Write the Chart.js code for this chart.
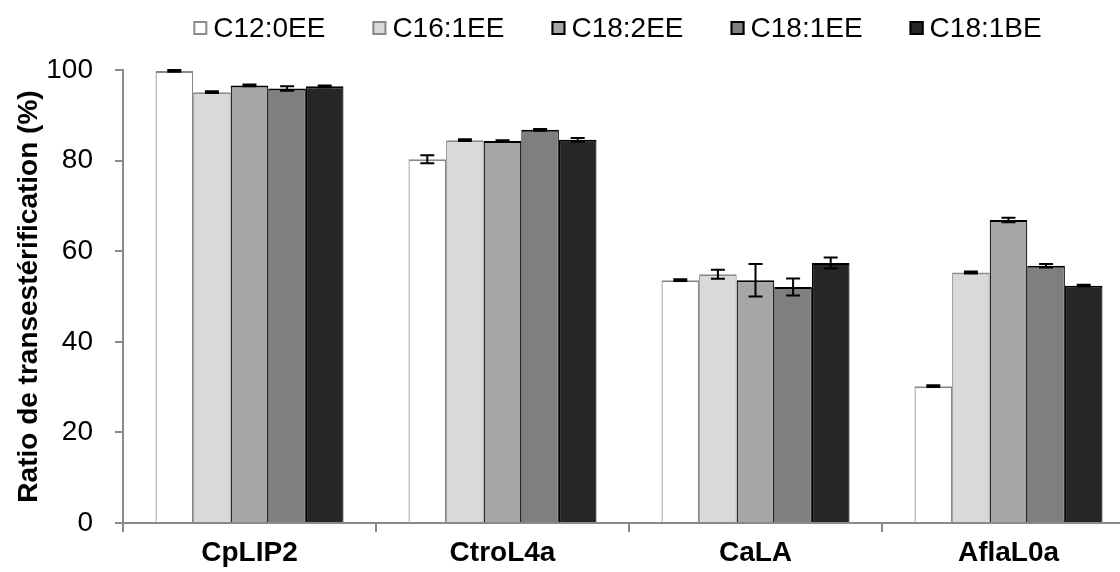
<!DOCTYPE html>
<html>
<head>
<meta charset="utf-8">
<script src="https://cdn.jsdelivr.net/npm/chart.js@4/dist/chart.umd.min.js"></script>
<style>
  html, body { margin: 0; padding: 0; background: #fff; overflow: hidden; }
  #wrap { width: 1140px; height: 572px; }
</style>
</head>
<body>
<div id="wrap"><canvas id="c" width="1140" height="572"></canvas></div>
<script>
// ---- data ----
const categories = ['CpLIP2', 'CtroL4a', 'CaLA', 'AflaL0a'];
const seriesNames = ['C12:0EE', 'C16:1EE', 'C18:2EE', 'C18:1EE', 'C18:1BE'];
const c12_0EE = [99.8, 80.3, 53.6, 30.2];
const c16_1EE = [95.1, 84.5, 54.9, 55.3];
const c18_2EE = [96.6, 84.3, 53.6, 66.9];
const c18_1EE = [95.9, 86.8, 52.1, 56.8];
const c18_1BE = [96.4, 84.6, 57.4, 52.4];
const err_c12_0EE = [0.2, 0.9, 0.2, 0.2];
const err_c16_1EE = [0.2, 0.2, 1.0, 0.2];
const err_c18_2EE = [0.2, 0.2, 3.6, 0.5];
const err_c18_1EE = [0.5, 0.2, 1.9, 0.4];
const err_c18_1BE = [0.2, 0.4, 1.2, 0.2];
const yTicks = [0, 20, 40, 60, 80, 100];

const FONT = "'Liberation Sans', Arial, sans-serif";
const fills = ['#FFFFFF', '#D9D9D9', '#A6A6A6', '#7F7F7F', '#262626'];
const borders = ['#8A8A8A', '#8A8A8A', '#000000', '#000000', '#000000'];
const values = [c12_0EE, c16_1EE, c18_2EE, c18_1EE, c18_1BE];
const errors = [err_c12_0EE, err_c16_1EE, err_c18_2EE, err_c18_1EE, err_c18_1BE];

const datasets = seriesNames.map((name, i) => ({
  label: name,
  data: values[i],
  errors: errors[i],
  backgroundColor: fills[i],
  borderColor: borders[i],
  borderWidth: {top: 2, left: 1.2, right: 1.2, bottom: 0},
  borderSkipped: 'bottom',
  categoryPercentage: 0.743,
  barPercentage: 1.0
}));

const errorBars = {
  id: 'errorBars',
  afterDatasetsDraw(chart) {
    const ctx = chart.ctx;
    const ys = chart.scales.y;
    ctx.save();
    ctx.strokeStyle = '#000';
    ctx.lineWidth = 2;
    chart.data.datasets.forEach((ds, di) => {
      const meta = chart.getDatasetMeta(di);
      meta.data.forEach((bar, j) => {
        const v = ds.data[j], e = ds.errors[j];
        const yTop = ys.getPixelForValue(v + e);
        const yBot = ys.getPixelForValue(v - e);
        const x = bar.x, hw = 7;
        ctx.beginPath();
        ctx.moveTo(x, yTop); ctx.lineTo(x, yBot);
        ctx.moveTo(x - hw, yTop); ctx.lineTo(x + hw, yTop);
        ctx.moveTo(x - hw, yBot); ctx.lineTo(x + hw, yBot);
        ctx.stroke();
      });
    });
    ctx.restore();
  }
};

const customLegend = {
  id: 'customLegend',
  afterDraw(chart) {
    const ctx = chart.ctx;
    ctx.save();
    ctx.font = '28px ' + FONT;
    const box = 14, gap = 6, spacing = 47;
    const items = chart.data.datasets.map(ds => ({
      text: ds.label, fill: ds.backgroundColor, stroke: ds.borderColor,
      w: box + gap + ctx.measureText(ds.label).width
    }));
    const total = items.reduce((s, it) => s + it.w, 0) + spacing * (items.length - 1);
    let x = 617.5 - total / 2;
    const baseY = 37;
    items.forEach(it => {
      ctx.fillStyle = it.fill;
      ctx.fillRect(x, 21, box, box);
      ctx.strokeStyle = it.stroke;
      ctx.lineWidth = 2;
      ctx.strokeRect(x + 1, 22, box - 2, box - 2);
      ctx.fillStyle = '#000';
      ctx.textBaseline = 'alphabetic';
      ctx.textAlign = 'left';
      ctx.fillText(it.text, x + box + gap, baseY);
      x += it.w + spacing;
    });
    ctx.restore();
  }
};

new Chart(document.getElementById('c'), {
  type: 'bar',
  data: { labels: categories, datasets },
  plugins: [errorBars, customLegend],
  options: {
    responsive: false,
    animation: false,
    layout: { padding: { top: 70, right: 5, left: 0, bottom: 0 } },
    plugins: { legend: { display: false }, tooltip: { enabled: false } },
    scales: {
      x: {
        offset: true,
        grid: { display: true, drawOnChartArea: false, drawTicks: true, tickLength: 9, color: '#8A8A8A', lineWidth: 2, offset: true },
        border: { color: '#8A8A8A', width: 2 },
        ticks: { font: { family: FONT, size: 28, weight: 'bold' }, color: '#000', padding: 4, maxRotation: 0, autoSkip: false },
        afterFit: s => { s.height = 49; }
      },
      y: {
        min: 0, max: 100,
        afterBuildTicks: s => { s.ticks = yTicks.map(v => ({ value: v })); },
        ticks: { font: { family: FONT, size: 28 }, color: '#000', padding: 22 },
        grid: { display: true, drawOnChartArea: false, drawTicks: true, tickLength: 8, color: '#8A8A8A', lineWidth: 2 },
        border: { color: '#8A8A8A', width: 2 },
        title: { display: true, text: 'Ratio de transestérification (%)', color: '#000',
                 font: { family: FONT, size: 28, weight: 'bold' }, padding: { top: 12, bottom: 0 } },
        afterFit: s => { s.width = 123; }
      }
    }
  }
});
</script>
</body>
</html>
